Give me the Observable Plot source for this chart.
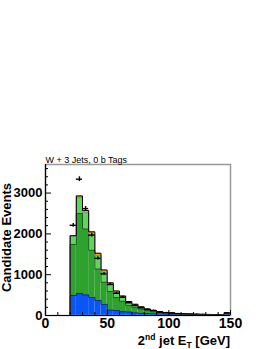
<!DOCTYPE html>
<html><head><meta charset="utf-8">
<script src="https://cdn.jsdelivr.net/npm/d3@7"></script>
<script src="https://cdn.jsdelivr.net/npm/@observablehq/plot@0.6"></script>
<style>body{margin:0;background:#fff} svg{display:block;background:#fff}</style>
</head><body><div id="chart"></div>
<script>
// Bin lower edges (GeV), 5 GeV wide
const binLow = [20,25,30,35,40,45,50,55,60,65,70,75,80,85,90,95,100,105,110,115,120,125,130,135,140,145];
const binWidth = 5;
// stacked components (bottom to top)
const layerA = [490,540,505,445,370,275,135,125,92,88,65,57,48,40,38,33,28,20,16,14,12,10,9,8,7,18];
const layerB = [1250,1960,1615,1155,770,540,455,315,258,162,137,101,70,53,36,23,20,18,14,13,11,10,9,9,9,35];
const layerC = [205,390,400,390,330,250,170,125,100,70,55,42,32,25,18,14,12,9,7,6,5,5,4,4,3,12];
const layerD = [10,40,55,60,55,50,40,35,28,22,18,14,10,8,6,5,4,3,3,2,2,2,2,1,1,3];
// data points
const dataCounts = [2210,3340,2620,1970,1400,1020,760,545,448,312,245,188,148,120,80,68,60,45,38,32,28,25,22,20,18,62];

const xTicksMajor = [0,50,100,150];
const xTicksMinor = [10,20,30,40,60,70,80,90,110,120,130,140];
const yTicksMajor = [0,1000,2000,3000];
const yTicksMinor = [200,400,600,800,1200,1400,1600,1800,2200,2400,2600,2800,3200,3400,3600];
const title = "W + 3 Jets, 0 b Tags";
const yTitle = "Candidate Events";

const layers = [
  {name:"comp A", values: layerA, fill:"#0a55f5", line:"#002a80"},
  {name:"comp B", values: layerB, fill:"#2ea12e", line:"#1c5e1c"},
  {name:"comp C", values: layerC, fill:"#5ed65e", line:"#8a8a8a"},
  {name:"comp D", values: layerD, fill:"#f5a100", line:"#000000"}
];
let running = binLow.map(() => 0);
const rects = [], outlines = [];
layers.forEach(L => {
  const lo = running.slice();
  running = running.map((r,i) => r + L.values[i]);
  binLow.forEach((b,i) => rects.push({x1:b, x2:b+binWidth, y1:lo[i], y2:running[i], s:L.name}));
  const last = binLow.length-1;
  const pts = [{x:binLow[0], y:0}, ...binLow.map((b,i)=>({x:b, y:running[i]})),
    {x:binLow[last]+binWidth, y:running[last]}, {x:binLow[last]+binWidth, y:0}];
  outlines.push({name:L.name, pts, line:L.line});
});
const pts = binLow.map((b,i)=>({x1:b, x2:b+binWidth, xc:b+binWidth/2, y:dataCounts[i], lo:dataCounts[i]-Math.sqrt(dataCounts[i]), hi:dataCounts[i]+Math.sqrt(dataCounts[i])}));

const plot = Plot.plot({
  width: 270, height: 349,
  marginLeft: 45, marginRight: 40, marginTop: 164, marginBottom: 34,
  style: {fontFamily: "Liberation Sans", background: "#fff"},
  x: {domain:[0,150]},
  y: {domain:[0,3700]},
  color: {type:"ordinal", domain: layers.map(l=>l.name), range: layers.map(l=>l.fill)},
  marks: [
    Plot.rect(rects, {x1:"x1", x2:"x2", y1:"y1", y2:"y2", fill:"s"}),
    ...outlines.map(o => Plot.line(o.pts, {x:"x", y:"y", curve:"step-after", stroke:o.line, strokeWidth:1})),
    Plot.ruleX(pts, {x:"xc", y1:"lo", y2:"hi", stroke:"#000", strokeWidth:1.4}),
    Plot.ruleY(pts, {x1:"x1", x2:"x2", y:"y", stroke:"#000", strokeWidth:1.4}),
    Plot.frame({stroke:"#999", strokeWidth:1.5}),
    Plot.ruleX([0], {stroke:"#000", strokeWidth:1.2}),
    Plot.ruleY([0], {stroke:"#000", strokeWidth:1.2}),
    Plot.axisY(yTicksMajor, {tickSize:0, tickPadding:3, tickFormat:"d", fontSize:13, fontWeight:"bold", fontFamily:"Liberation Sans", label:null}),
    Plot.axisY(yTicksMajor, {text:null, tickSize:-6, label:null}),
    Plot.axisY(yTicksMinor, {text:null, tickSize:-3, label:null}),
    Plot.axisX(xTicksMajor, {tickSize:0, tickPadding:3, tickFormat:"d", fontSize:14, fontWeight:"bold", fontFamily:"Liberation Sans", label:null}),
    Plot.axisX(xTicksMajor, {text:null, tickSize:-5, label:null}),
    Plot.axisX(xTicksMinor, {text:null, tickSize:-3, label:null}),
    Plot.text([title], {frameAnchor:"top-left", textAnchor:"start", dy:-8, fontSize:9, fontFamily:"Liberation Sans", fill:"#000"})
  ]
});
const svg = d3.select(plot);
svg.append("text").attr("transform","translate(11,237.5) rotate(-90)").attr("text-anchor","middle")
  .attr("font-family","Liberation Sans").attr("font-weight","bold").attr("font-size",13).attr("fill","#000")
  .text(yTitle);
const t = svg.append("text").attr("x", 230).attr("y", 345).attr("text-anchor","end")
  .attr("font-family","Liberation Sans").attr("font-weight","bold").attr("font-size",13).attr("fill","#000");
t.append("tspan").text("2");
t.append("tspan").attr("font-size",8.5).attr("dy",-5).text("nd");
t.append("tspan").attr("dy",5).text(" jet E");
t.append("tspan").attr("font-size",8.5).attr("dy",3).text("T");
t.append("tspan").attr("dy",-3).text(" [GeV]");
document.getElementById("chart").appendChild(plot);
</script>
</body></html>
